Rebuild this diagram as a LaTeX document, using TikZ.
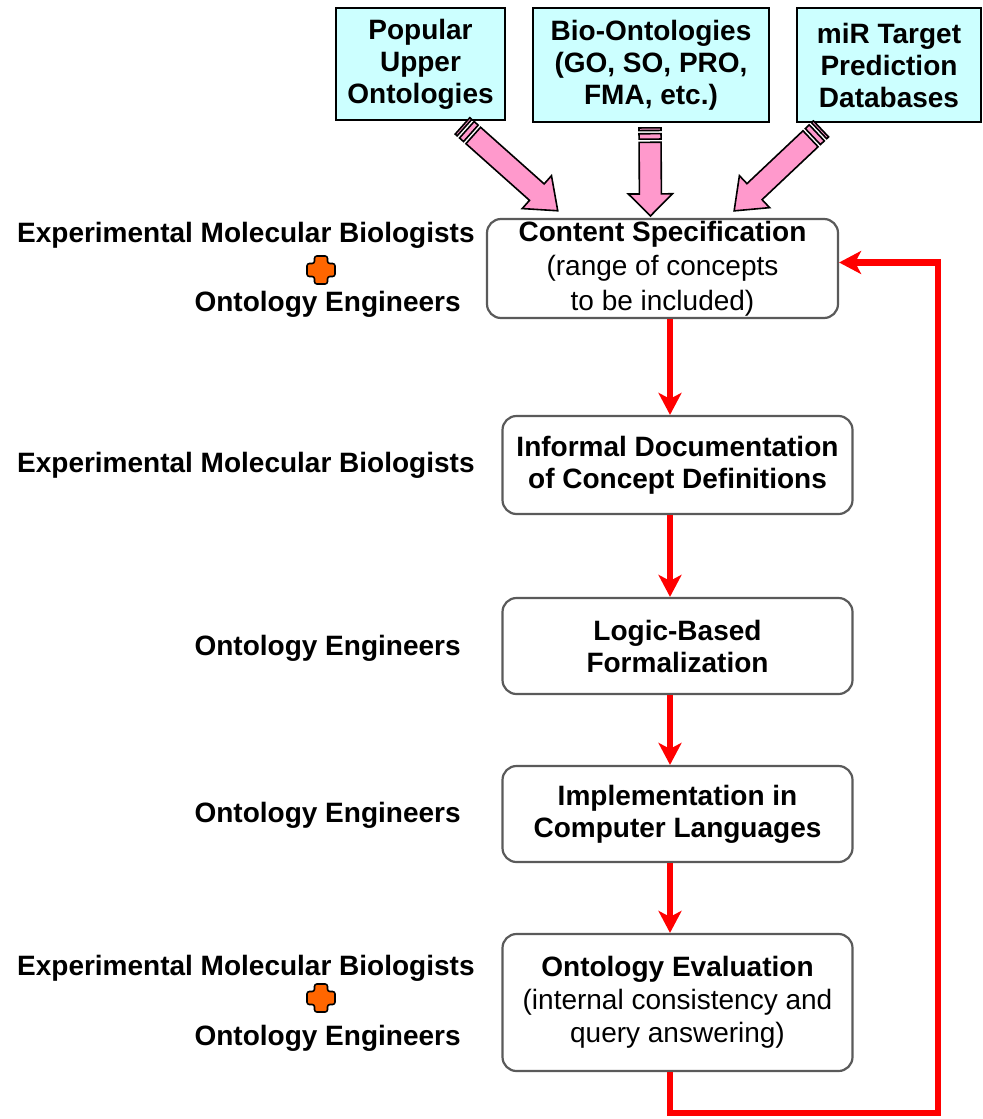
\documentclass[tikz,border=0pt]{standalone}
\usepackage{fontspec}
\setmainfont{Liberation Sans}
\usetikzlibrary{arrows.meta,positioning,calc}

\definecolor{srccyan}{HTML}{CCFFFF}
\definecolor{arrpink}{HTML}{FF99CC}
\definecolor{plusorange}{HTML}{FF6600}
\definecolor{boxgray}{HTML}{5A5A5A}

% striped block arrow: [head length]{tail}{tip}
\newcommand{\stripedarrow}[3][11pt]{%
  \path let \p1=($(#3)-(#2)$) in
    \pgfextra{\pgfmathsetmacro\sang{atan2(\y1,\x1)}%
              \pgfmathsetmacro\slen{veclen(\x1,\y1)}%
              \xdef\sang{\sang}\xdef\slen{\slen}};
  \begin{scope}[shift={(#2)},rotate=\sang]
    \draw[sarrow] (0pt,-5.5pt) rectangle (1.3pt,5.5pt);
    \draw[sarrow] (2.9pt,-5.5pt) rectangle (5.6pt,5.5pt);
    \draw[sarrow] (7.2pt,-5.5pt) -- (\slen pt-#1,-5.5pt) -- (\slen pt-#1,-11pt)
      -- (\slen pt,0pt) -- (\slen pt-#1,11pt) -- (\slen pt-#1,5.5pt)
      -- (7.2pt,5.5pt) -- cycle;
  \end{scope}}

% orange plus sign centred on a coordinate
\newcommand{\orangeplus}[1]{%
  \draw[plusmark,shift={(#1)}] (-3.25pt,-7pt) -- (3.25pt,-7pt) -- (3.25pt,-3.25pt)
    -- (7pt,-3.25pt) -- (7pt,3.25pt) -- (3.25pt,3.25pt) -- (3.25pt,7pt)
    -- (-3.25pt,7pt) -- (-3.25pt,3.25pt) -- (-7pt,3.25pt) -- (-7pt,-3.25pt)
    -- (-3.25pt,-3.25pt) -- cycle;}

\begin{document}
\begin{tikzpicture}[
  x=0.5pt,y=-0.5pt,
  font=\fontsize{14}{16.5}\selectfont,
  source/.style={draw=black,line width=0.9pt,fill=srccyan,align=center,
                 font=\fontsize{14}{16}\selectfont\bfseries,inner sep=0pt},
  stepbox/.style={draw=boxgray,line width=1.1pt,rounded corners=7pt,fill=white,
                  align=center,minimum width=175pt,inner sep=0pt,
                  font=\fontsize{14}{16.5}\selectfont},
  stepbold/.style={stepbox,font=\fontsize{14}{16}\selectfont\bfseries},
  who/.style={font=\fontsize{14}{16}\selectfont\bfseries,inner sep=0pt},
  sarrow/.style={draw=black,fill=arrpink,line width=0.8pt},
  plusmark/.style={draw=black,fill=plusorange,line width=0.8pt,rounded corners=1.2pt},
  flow/.style={draw=red,line width=3.3pt,-{Stealth[length=11pt,width=11.5pt,inset=3pt]}}
]
\useasboundingbox (0,0) rectangle (983,1119);

%%%%%%%%%%%%%%%%%%%%%% sources %%%%%%%%%%%%%%%%%%%%%%
\node[source,minimum width=84.5pt,minimum height=56pt] (pop) at (420.5,64) {Popular\\Upper\\Ontologies};
\node[source,minimum width=118pt,minimum height=57pt]  (bio) at (651,65)   {Bio-Ontologies\\(GO, SO, PRO,\\FMA, etc.)};
\node[source,minimum width=92pt,minimum height=57pt]   (mir) at (889,65)   {miR Target\\Prediction\\Databases};

%%%%%%%%%%%%%%%%%%%%%% development steps %%%%%%%%%%%%%%%%%%%%%%
\node[stepbox,minimum width=175.5pt,minimum height=49.5pt,
      font=\fontsize{14}{17.2}\selectfont] (spec) at (662.5,268.5)
  {\textbf{Content Specification}\\(range of concepts\\to be included)};
\node[stepbold,minimum height=49pt]   (info)  at (677.5,465)    {Informal Documentation\\of Concept Definitions};
\node[stepbold,minimum height=48pt]   (logic) at (677.5,646)    {Logic-Based\\Formalization};
\node[stepbold,minimum height=48pt]   (impl)  at (677.5,814)    {Implementation in\\Computer Languages};
\node[stepbox,minimum height=68.5pt]  (eval)  at (677.5,1002.5)
  {\textbf{Ontology Evaluation}\\(internal consistency and\\query answering)};

%%%%%%%%%%%%%%%%%%%%%% who does it %%%%%%%%%%%%%%%%%%%%%%
\node[who,anchor=base east] (embA) at (475,242) {Experimental Molecular\ Biologists};
\coordinate (plusA) at (321,270);
\node[who,anchor=base east] (oeA)  at (461,311) {Ontology Engineers};
\node[who,anchor=base east] (embB) at (475,472) {Experimental Molecular\ Biologists};
\node[who,anchor=base east] (oeC)  at (461,655) {Ontology Engineers};
\node[who,anchor=base east] (oeD)  at (461,822) {Ontology Engineers};
\node[who,anchor=base east] (embE) at (475,975) {Experimental Molecular\ Biologists};
\coordinate (plusE) at (321,998);
\node[who,anchor=base east] (oeE)  at (461,1045) {Ontology Engineers};

\orangeplus{plusA}
\orangeplus{plusE}

%%%%%%%%%%%%%%%%%%%%%% pink inputs %%%%%%%%%%%%%%%%%%%%%%
\coordinate (popT) at ([shift={(42,5)}]pop.south);
\coordinate (popH) at ([shift={(72,-7)}]spec.north west);
\coordinate (bioT) at ([shift={(-1,5)}]bio.south);
\coordinate (bioH) at ([shift={(-12,-2)}]spec.north);
\coordinate (mirT) at ([shift={(-68,6)}]mir.south);
\coordinate (mirH) at ([shift={(-105,-7)}]spec.north east);

\stripedarrow[14pt]{popT}{popH}
\stripedarrow{bioT}{bioH}
\stripedarrow[14pt]{mirT}{mirH}

%%%%%%%%%%%%%%%%%%%%%% red flow %%%%%%%%%%%%%%%%%%%%%%
\coordinate (ax) at (670,0);
\coordinate (lp) at (938,1113);

\draw[flow] (spec.south -| ax)  -- (info.north -| ax);
\draw[flow] (info.south -| ax)  -- (logic.north -| ax);
\draw[flow] (logic.south -| ax) -- (impl.north -| ax);
\draw[flow] (impl.south -| ax)  -- (eval.north -| ax);
\draw[flow] (eval.south -| ax) |- (lp) |- ([yshift=3pt]spec.east);
\end{tikzpicture}
\end{document}
